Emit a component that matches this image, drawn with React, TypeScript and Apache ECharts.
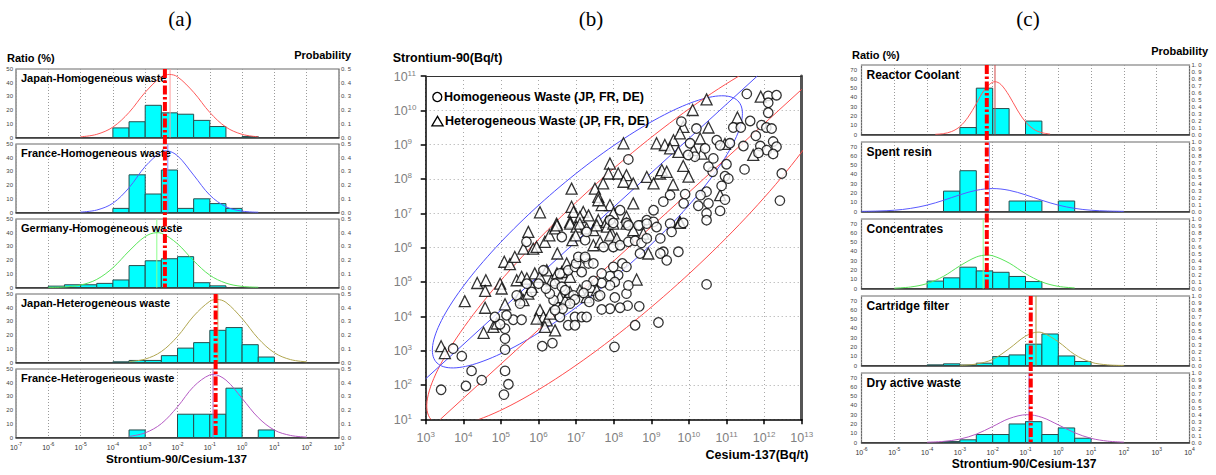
import React, { useEffect, useRef } from "react";
import * as echarts from "echarts";

const FONT = "'Liberation Sans', Arial, sans-serif";
const BIN_WIDTH = 0.5; // histogram bins are half a decade wide
// All x positions in (a)/(c) and both axes in (b) are decimal exponents (log10 of the value).

// ---------------- Panel (a) ----------------
const A_TITLES = [
  "Japan-Homogeneous waste",
  "France-Homogeneous waste",
  "Germany-Homogeneous waste",
  "Japan-Heterogeneous waste",
  "France-Heterogeneous waste",
];
const A_BIN_START = [
  [-4, -3.5, -3, -2.5, -2, -1.5, -1, 0],
  [-4, -3.5, -3, -2.5, -2, -1.5, -1, -0.5],
  [-6, -5.5, -5, -4.5, -4, -3.5, -3, -2.5, -2, -1.5, -1],
  [-4, -3.5, -3, -2.5, -2, -1.5, -1, -0.5, 0, 0.5],
  [-3.5, -2, -1.5, -1, -0.5, 0.5],
];
const A_BIN_RATIO = [
  [7, 11.5, 23.5, 18, 17, 12.5, 8, 0.7],
  [3, 27.5, 13.5, 31, 3, 10, 6.5, 3],
  [1, 2, 2, 3, 5.5, 16, 19.5, 21, 22.5, 3.5, 1.2],
  [0.5, 1.5, 1.5, 5, 10.5, 14.5, 23.5, 25.5, 13, 4],
  [5.5, 17, 17, 17, 36, 5.5],
];
const A_CURVE_EXP = [
  [-5, -4.5, -4, -3.5, -3, -2.5, -2.25, -2, -1.5, -1, -0.5, 0, 0.5],
  [-5, -4.5, -4, -3.5, -3, -2.5, -2.35, -2, -1.5, -1, -0.5, 0, 0.5],
  [-6, -5.5, -5, -4.5, -4, -3.5, -3, -2.64, -2.5, -2, -1.5, -1, -0.5, 0, 0.5],
  [-3.5, -3, -2.5, -2, -1.5, -1, -0.78, -0.5, 0, 0.5, 1, 1.5, 2],
  [-3.5, -3, -2.5, -2, -1.5, -1, -0.9, -0.5, 0, 0.5, 1, 1.5, 2],
];
const A_CURVE_PROB = [
  [0.005, 0.023, 0.076, 0.183, 0.33, 0.443, 0.46, 0.443, 0.33, 0.183, 0.076, 0.023, 0.005],
  [0.003, 0.018, 0.068, 0.181, 0.336, 0.443, 0.45, 0.414, 0.273, 0.127, 0.042, 0.01, 0.002],
  [0.001, 0.004, 0.018, 0.059, 0.144, 0.266, 0.372, 0.4, 0.396, 0.319, 0.195, 0.09, 0.032, 0.008, 0.002],
  [0.006, 0.025, 0.08, 0.19, 0.339, 0.447, 0.46, 0.439, 0.321, 0.175, 0.071, 0.021, 0.005],
  [0.008, 0.034, 0.101, 0.224, 0.372, 0.457, 0.46, 0.419, 0.285, 0.145, 0.054, 0.015, 0.003],
];
const A_MEAN_EXP = [-2.23, -2.3, -2.64, -0.75, -0.9];
// overall geometric-mean ratios: homogeneous, heterogeneous
const A_OVERALL_EXP = [-2.39, -0.82];
const A_OVERALL_PANELS = [[0, 2], [3, 4]];

// ---------------- Panel (c) ----------------
const C_TITLES = ["Reactor Coolant", "Spent resin", "Concentrates", "Cartridge filter", "Dry active waste"];
const C_BIN_START = [
  [-3, -2.5, -2, -1],
  [-3.5, -3, -1.5, -1, 0],
  [-4, -3.5, -3, -2.5, -2, -1.5, -1],
  [-4, -3.5, -3, -2.5, -2, -1.5, -1, -0.5, 0, 0.5],
  [-3.5, -3, -2.5, -2, -1.5, -1, -0.5, 0, 0.5],
];
const C_BIN_RATIO = [
  [7.5, 50, 28, 14.5],
  [22, 44, 11.3, 11.3, 11.3],
  [8, 11.5, 23, 19, 17.5, 13, 7.5],
  [0.7, 1.8, 0.5, 2.5, 9.6, 11.4, 23, 34, 10.3, 4.3],
  [1, 2.9, 8.6, 8.6, 20, 22.5, 8.6, 15.7, 4.6],
];
const C_CURVE_EXP = [
  [-3.75, -3.5, -3.25, -3, -2.75, -2.5, -2.25, -1.93, -1.75, -1.5, -1.25, -1, -0.75, -0.5, -0.25],
  [-6, -5.5, -5, -4.5, -4, -3.5, -3, -2.5, -2, -1.5, -1, -0.5, 0, 0.5, 1, 1.5, 2],
  [-5, -4.5, -4, -3.5, -3, -2.5, -2.18, -2, -1.5, -1, -0.5, 0, 0.5],
  [-3, -2.5, -2, -1.5, -1, -0.62, -0.5, 0, 0.5, 1, 1.5, 2],
  [-4, -3.5, -3, -2.5, -2, -1.5, -0.95, -0.5, 0, 0.5, 1, 1.5, 2],
];
const C_CURVE_PROB = [
  [0.003, 0.013, 0.043, 0.114, 0.25, 0.443, 0.642, 0.76, 0.72, 0.56, 0.353, 0.182, 0.075, 0.026, 0.007],
  [0.002, 0.007, 0.018, 0.045, 0.092, 0.161, 0.24, 0.305, 0.33, 0.305, 0.24, 0.161, 0.092, 0.045, 0.018, 0.007, 0.002],
  [0.005, 0.022, 0.071, 0.175, 0.326, 0.453, 0.48, 0.471, 0.367, 0.214, 0.094, 0.031, 0.008],
  [0.003, 0.021, 0.088, 0.242, 0.422, 0.48, 0.474, 0.341, 0.158, 0.047, 0.009, 0.001],
  [0.004, 0.016, 0.049, 0.12, 0.23, 0.344, 0.4, 0.362, 0.254, 0.14, 0.06, 0.02, 0.005],
];
const C_MEAN_EXP = [-1.93, -2.1, -2.29, -0.68, -0.89];
const C_OVERALL_EXP = [-2.18, -0.84];
const C_OVERALL_PANELS = [[0, 2], [3, 4]];

// ---------------- Panel (b) : [log10 Cs-137, log10 Sr-90] ----------------
const HOMO_LOG = [
  [11.54, 10.48], [12.11, 10.42], [12.33, 10.44], [12.11, 10.22], [11.63, 9.69], [12.11, 9.93], [11.93, 9.57],
  [12.06, 9.5], [12.2, 9.47], [11.18, 9.5], [11.38, 9.5], [11.78, 9.26], [12.24, 9.09], [12.33, 8.94], [11.9, 8.96],
  [12.07, 8.84], [12.24, 8.73], [11.85, 8.76], [11.45, 8.96], [11.09, 9.04], [10.74, 9.13], [10.83, 8.98],
  [11.48, 8.28], [12.47, 8.16], [12.42, 7.37], [11.0, 8.43], [10.96, 8.08], [11.05, 8.01], [10.87, 7.8],
  [10.96, 7.4], [10.83, 7.07], [10.47, 7.0], [10.52, 7.29], [10.47, 7.63], [10.63, 8.21], [10.52, 8.36],
  [10.65, 8.6], [10.43, 8.89], [10.16, 8.65], [9.98, 8.7], [10.03, 9.04], [9.8, 9.67], [10.2, 9.47], [9.9, 7.56],
  [9.86, 7.29], [10.25, 7.22], [10.31, 7.53], [9.5, 7.53], [9.32, 7.34], [8.39, 8.57], [8.17, 7.09], [7.9, 6.8],
  [8.34, 6.72], [8.7, 6.65], [8.88, 6.8], [9.06, 6.75], [9.06, 7.09], [9.5, 6.7], [9.85, 6.72], [7.99, 6.72],
  [3.41, 1.86], [3.96, 2.84], [3.73, 3.06], [4.22, 2.41], [4.07, 1.97], [4.49, 2.14], [5.08, 1.72], [5.2, 2.02],
  [5.11, 2.41], [5.11, 3.03], [5.11, 3.35], [5.11, 3.64], [4.98, 3.77], [4.84, 3.98], [5.33, 3.9], [5.55, 3.9],
  [5.15, 4.03], [6.1, 3.13], [6.37, 3.22], [8.02, 3.11], [8.57, 3.74], [9.19, 3.82], [10.47, 4.93], [8.68, 4.29],
  [8.37, 4.31], [8.17, 4.25], [7.9, 4.22], [7.68, 4.2], [7.35, 4.42], [7.59, 4.58], [7.64, 4.61], [8.03, 4.55],
  [8.34, 4.66], [8.39, 4.9], [8.12, 5.2], [7.9, 5.17], [8.03, 5.0], [7.9, 4.9], [7.68, 4.97], [7.46, 5.03],
  [7.28, 4.9], [7.2, 4.68], [6.93, 4.61], [6.97, 4.49], [6.97, 3.98], [7.15, 3.98], [7.28, 3.98], [6.79, 3.74],
  [6.97, 3.74], [6.57, 3.98], [6.64, 4.22], [6.84, 4.37], [6.44, 4.18], [6.4, 4.47], [6.3, 4.66], [6.44, 4.95],
  [6.62, 4.86], [6.71, 4.76], [6.2, 4.81], [6.0, 4.95], [5.82, 4.71], [6.13, 5.34], [6.57, 5.25], [6.79, 5.34],
  [6.97, 5.44], [7.15, 5.29], [7.0, 5.54], [7.06, 5.73], [7.24, 5.68], [7.33, 5.54], [7.46, 5.54], [7.68, 5.25],
  [7.99, 5.44], [8.23, 5.54], [8.34, 5.44], [7.73, 6.02], [7.99, 6.02], [8.17, 6.07], [8.39, 6.17], [8.57, 6.2],
  [8.74, 6.14], [8.88, 6.27], [9.24, 6.27], [9.32, 5.88], [9.41, 5.63], [9.24, 5.83], [8.7, 5.83], [9.72, 5.88],
  [9.54, 6.46], [8.39, 6.65], [8.66, 6.65], [8.88, 6.7], [9.14, 6.6], [10.47, 6.8], [7.24, 6.22], [7.28, 6.46],
  [6.62, 6.31], [5.68, 6.17], [5.69, 4.95], [5.42, 4.61], [5.51, 4.37], [7.24, 5.73],
];
const HETERO_LOG = [
  [10.47, 10.32], [10.1, 10.01], [11.91, 10.4], [11.29, 9.79], [9.85, 9.52], [10.52, 9.5], [8.26, 9.04],
  [9.14, 9.04], [9.36, 8.99], [9.59, 9.13], [9.76, 9.33], [10.3, 9.18], [9.5, 8.89], [9.72, 8.79], [10.12, 8.84],
  [10.34, 8.74], [10.96, 9.02], [11.71, 8.7], [7.9, 8.45], [7.86, 8.16], [8.12, 8.16], [8.34, 8.11], [7.72, 7.87],
  [8.26, 7.92], [8.52, 7.87], [8.88, 8.06], [9.06, 7.87], [9.23, 8.16], [9.28, 8.26], [9.41, 8.21], [9.58, 7.84],
  [9.85, 8.38], [9.99, 8.07], [6.88, 7.72], [7.5, 7.72], [7.59, 7.48], [7.9, 7.24], [7.68, 7.24], [7.59, 7.38],
  [8.52, 7.29], [6.88, 7.19], [6.93, 7.04], [7.19, 7.04], [7.1, 6.89], [6.04, 7.03], [10.83, 7.53], [9.76, 6.75],
  [7.33, 6.94], [6.48, 6.7], [6.84, 6.75], [7.59, 6.8], [7.81, 6.75], [7.99, 7.0], [8.34, 6.9],
  [3.41, 3.13], [3.51, 2.93], [4.04, 4.44], [4.37, 4.97], [4.6, 5.05], [4.58, 4.74], [4.58, 4.25], [4.54, 3.52],
  [4.8, 3.69], [4.89, 3.79], [4.98, 4.95], [5.02, 4.81], [5.11, 4.35], [5.09, 5.59], [5.24, 5.52], [5.37, 5.73],
  [5.6, 5.97], [5.73, 6.46], [5.86, 5.97], [5.95, 6.02], [6.17, 6.17], [6.29, 6.36], [6.44, 6.56], [6.49, 6.65],
  [6.84, 6.7], [7.01, 6.61], [7.1, 6.7], [7.28, 6.56], [7.46, 6.51], [7.55, 6.65], [7.82, 6.61], [7.95, 6.41],
  [7.99, 6.7], [8.34, 6.7], [8.52, 6.51], [8.79, 6.41], [8.92, 5.83], [9.76, 6.72], [8.61, 5.07], [5.42, 5.05],
  [5.55, 5.15], [5.69, 5.1], [5.9, 5.25], [6.04, 5.15], [6.22, 5.34], [6.35, 5.05], [6.49, 5.25], [6.62, 5.29],
  [6.75, 5.54], [6.84, 5.15], [6.5, 5.83], [6.9, 6.22], [6.99, 6.36], [7.46, 6.07], [7.64, 6.17], [7.9, 6.36],
  [8.08, 6.27], [5.51, 4.61], [5.6, 4.47], [5.73, 4.66], [5.82, 4.86], [6.04, 4.18], [6.13, 3.98], [6.22, 3.88],
  [6.31, 4.08], [6.44, 3.59], [5.95, 3.93], [6.49, 4.37], [6.57, 4.56], [6.71, 4.47], [6.84, 4.71], [7.1, 4.76],
  [7.28, 4.56], [7.41, 4.86], [7.55, 4.76], [6.17, 3.69],
];
// confidence ellipses: centre (log Cs, log Sr), semi-axes (decades), tilt (deg) — heterogeneous, homogeneous
const ELLIPSE_PARAMS = [
  [7.3, 6.46, 5.53, 1.46, 43.7],
  [8.62, 6.4, 7.7, 1.8, 45],
];
// lines of constant ratio log10(Sr/Cs) — heterogeneous, homogeneous
const RATIO_LINES = [-0.82, -2.39];
const B_COLORS = ["#4d4dff", "#ff4d4d"];
const B_X_RANGE = [3, 13];
const B_Y_RANGE = [1, 11];

// ---------------- Layout / styles ----------------
const A_CURVE_COLOR = ["#ff5a5a", "#5a5aff", "#5ae65a", "#b0a650", "#b45ac3"];
const A_MEAN_COLOR = ["#ff9c9c", "#8c8cff", "#8cff8c", "#c2b060", "#b070c8"];
const C_CURVE_COLOR = ["#ff5a5a", "#5a5aff", "#5ae65a", "#b0a650", "#b45ac3"];
const C_MEAN_COLOR = ["#d04848", "#9c9cff", "#8cff8c", "#a8943c", "#a050c0"];

const richSmall = {
  b: { fontSize: 7, lineHeight: 9, verticalAlign: "bottom", color: "#333", fontFamily: FONT },
  s: { fontSize: 5, lineHeight: 5, verticalAlign: "top", color: "#333", fontFamily: FONT },
};
const richBig = {
  b: { fontSize: 12.5, lineHeight: 14, verticalAlign: "bottom", color: "#808080", fontFamily: FONT },
  s: { fontSize: 8, lineHeight: 8, verticalAlign: "top", color: "#808080", fontFamily: FONT },
};
const powLabel = (v: number) => `{b|10}{s|${Math.round(v)}}`;

type Stack = {
  left: number; width: number; tops: number[]; height: number;
  xMin: number; xMax: number; ratioMax: number; ratioLabelMax: number; probMax: number;
  leftMargin: number;
  titles: string[]; titleSize: number; titleDy: number;
  binStart: number[][]; binRatio: number[][];
  curveExp: number[][]; curveProb: number[][]; curveColor: string[];
  meanExp: number[]; meanColor: string[];
  overall: number[]; overallPanels: number[][];
};

function addStack(opt: any, P: Stack) {
  const firstX = opt.xAxis.length;
  const firstY = opt.yAxis.length;
  P.tops.forEach((top, i) => {
    const g = opt.grid.length;
    opt.grid.push({ left: P.left, top, width: P.width, height: P.height, show: true, borderColor: "#6a6a6a", borderWidth: 1.2 });
    const xi = opt.xAxis.length;
    opt.xAxis.push({
      type: "value", gridIndex: g, min: P.xMin, max: P.xMax, interval: 1,
      axisLine: { show: true, onZero: false, lineStyle: { color: "#333", width: 1.5 } },
      axisTick: { show: false },
      axisLabel: { show: i === P.tops.length - 1, formatter: powLabel, rich: richSmall, margin: 4 },
      splitLine: { show: true, lineStyle: { color: "#9a9a9a", width: 1, type: [1, 2] } },
    });
    const yl = opt.yAxis.length;
    opt.yAxis.push({
      type: "value", gridIndex: g, position: "left", min: 0, max: P.ratioMax, interval: 10,
      axisLine: { show: false }, axisTick: { show: false }, splitLine: { show: false },
      axisLabel: { fontSize: 6, color: "#444", margin: P.leftMargin, fontFamily: FONT, formatter: (v: number) => (v <= P.ratioLabelMax ? String(v) : "") },
    });
    const yr = opt.yAxis.length;
    opt.yAxis.push({
      type: "value", gridIndex: g, position: "right", min: 0, max: P.probMax, interval: 0.1,
      axisLine: { show: false }, axisTick: { show: false }, splitLine: { show: false },
      axisLabel: { fontSize: 6, color: "#444", margin: 2, fontFamily: FONT, formatter: (v: number) => v.toFixed(1).replace(".", ". ") },
    });
    // histogram
    opt.series.push({
      type: "custom", xAxisIndex: xi, yAxisIndex: yl, z: 2, silent: true,
      data: P.binStart[i].map((s, k) => [s, P.binRatio[i][k], s + BIN_WIDTH]),
      encode: { x: [0, 2], y: 1 },
      renderItem: (_p: any, api: any) => {
        const a = api.coord([api.value(0), api.value(1)]);
        const b = api.coord([api.value(2), 0]);
        return {
          type: "rect",
          shape: { x: a[0], y: a[1], width: b[0] - a[0], height: b[1] - a[1] },
          style: { fill: "#00ffff", stroke: "#2a4c4c", lineWidth: 1 },
        };
      },
    });
    // fitted mean line
    opt.series.push({
      type: "custom", xAxisIndex: xi, yAxisIndex: yl, z: 3, silent: true,
      data: [[P.meanExp[i], P.ratioMax]],
      renderItem: (_p: any, api: any) => {
        const t = api.coord([api.value(0), api.value(1)]);
        const b = api.coord([api.value(0), 0]);
        return { type: "line", shape: { x1: t[0], y1: t[1], x2: b[0], y2: b[1] }, style: { stroke: P.meanColor[i], lineWidth: 1 } };
      },
    });
    // probability curve
    opt.series.push({
      type: "line", xAxisIndex: xi, yAxisIndex: yr, z: 4, silent: true, symbol: "none", smooth: 0.35,
      lineStyle: { width: 1, color: P.curveColor[i] },
      data: P.curveExp[i].map((e, k) => [e, P.curveProb[i][k]]),
    });
    opt.graphic.push({
      type: "text", x: P.left + 5, y: top + P.titleDy, z: 6, silent: true,
      style: { text: P.titles[i], fill: "#000", font: `bold ${P.titleSize}px ${FONT}`, textVerticalAlign: "middle", verticalAlign: "middle" },
    });
  });
  P.overall.forEach((v, j) => {
    const [from, to] = P.overallPanels[j];
    opt.series.push({
      type: "custom", xAxisIndex: firstX + from, yAxisIndex: firstY + 2 * from, z: 10, clip: false, silent: true,
      data: [[v, 0]],
      renderItem: (_p: any, api: any) => {
        const x = api.coord([api.value(0), 0])[0];
        return {
          type: "line",
          shape: { x1: x, y1: P.tops[from], x2: x, y2: P.tops[to] + P.height },
          style: { stroke: "#ff0000", lineWidth: 4, lineDash: [9, 2.5, 2.5, 2.5] },
        };
      },
    });
  });
}

function text(x: number, y: number, t: string, font: string, align = "left") {
  return {
    type: "text", x, y, z: 6, silent: true,
    style: { text: t, fill: "#000", font, textAlign: align, align, textVerticalAlign: "middle", verticalAlign: "middle" },
  };
}

function buildOption() {
  const opt: any = { animation: false, backgroundColor: "#fff", grid: [], xAxis: [], yAxis: [], series: [], graphic: [] };

  addStack(opt, {
    left: 16, width: 323, tops: [69, 144, 219, 294, 369], height: 68.5,
    xMin: -7, xMax: 3, ratioMax: 50, ratioLabelMax: 50, probMax: 0.5, leftMargin: 3,
    titles: A_TITLES, titleSize: 11, titleDy: 8.5,
    binStart: A_BIN_START, binRatio: A_BIN_RATIO,
    curveExp: A_CURVE_EXP, curveProb: A_CURVE_PROB, curveColor: A_CURVE_COLOR,
    meanExp: A_MEAN_EXP, meanColor: A_MEAN_COLOR,
    overall: A_OVERALL_EXP, overallPanels: A_OVERALL_PANELS,
  });
  addStack(opt, {
    left: 861.5, width: 328, tops: [65, 142, 219, 296, 373], height: 69.5,
    xMin: -6, xMax: 4, ratioMax: 75, ratioLabelMax: 70, probMax: 1.0, leftMargin: 4.5,
    titles: C_TITLES, titleSize: 12, titleDy: 9.5,
    binStart: C_BIN_START, binRatio: C_BIN_RATIO,
    curveExp: C_CURVE_EXP, curveProb: C_CURVE_PROB, curveColor: C_CURVE_COLOR,
    meanExp: C_MEAN_EXP, meanColor: C_MEAN_COLOR,
    overall: C_OVERALL_EXP, overallPanels: C_OVERALL_PANELS,
  });

  // ---- panel (b)
  const g = opt.grid.length;
  opt.grid.push({ left: 425.7, top: 76, width: 376, height: 343.3, show: false });
  const xb = opt.xAxis.length;
  opt.xAxis.push({
    type: "value", gridIndex: g, min: B_X_RANGE[0], max: B_X_RANGE[1], interval: 1, position: "bottom",
    axisLine: { show: true, onZero: false, lineStyle: { color: "#000", width: 1.5 } },
    axisTick: { show: true, length: 5, lineStyle: { color: "#000", width: 1.5 } },
    axisLabel: { formatter: powLabel, rich: richBig, margin: 11 },
    splitLine: { show: true, lineStyle: { color: "#a8a8a8", width: 1, type: [1, 3] } },
  });
  opt.xAxis.push({
    type: "value", gridIndex: g, min: B_X_RANGE[0], max: B_X_RANGE[1], interval: 1, position: "top",
    axisLine: { show: true, onZero: false, lineStyle: { color: "#333", width: 1 } },
    axisTick: { show: false }, axisLabel: { show: false }, splitLine: { show: false },
  });
  const yb = opt.yAxis.length;
  opt.yAxis.push({
    type: "value", gridIndex: g, min: B_Y_RANGE[0], max: B_Y_RANGE[1], interval: 1, position: "left",
    axisLine: { show: true, onZero: false, lineStyle: { color: "#000", width: 1.5 } },
    axisTick: { show: true, length: 5, lineStyle: { color: "#000", width: 1.5 } },
    axisLabel: { formatter: powLabel, rich: richBig, margin: 32, align: "left" },
    splitLine: { show: true, lineStyle: { color: "#a8a8a8", width: 1, type: [1, 3] } },
  });
  opt.yAxis.push({
    type: "value", gridIndex: g, min: B_Y_RANGE[0], max: B_Y_RANGE[1], interval: 1, position: "right",
    axisLine: { show: true, onZero: false, lineStyle: { color: "#555", width: 3 } },
    axisTick: { show: false }, axisLabel: { show: false }, splitLine: { show: false },
  });
  ELLIPSE_PARAMS.forEach((ep, k) => {
    opt.series.push({
      type: "custom", xAxisIndex: xb, yAxisIndex: yb, z: 3, clip: true, silent: true,
      data: [ep],
      renderItem: (_p: any, api: any) => {
        const cx = api.value(0), cy = api.value(1), a = api.value(2), b = api.value(3);
        const th = (api.value(4) * Math.PI) / 180;
        const pts: number[][] = [];
        for (let d = 0; d <= 360; d += 2) {
          const t = (d * Math.PI) / 180;
          const X = cx + a * Math.cos(t) * Math.cos(th) - b * Math.sin(t) * Math.sin(th);
          const Y = cy + a * Math.cos(t) * Math.sin(th) + b * Math.sin(t) * Math.cos(th);
          pts.push(api.coord([X, Y]));
        }
        return { type: "polyline", shape: { points: pts }, style: { stroke: B_COLORS[k], lineWidth: 1, fill: "none" } };
      },
    });
  });
  RATIO_LINES.forEach((r, k) => {
    // Sr = r * Cs on log axes: log Sr = log Cs + log r, clipped to the plot frame
    const x0 = Math.max(B_X_RANGE[0], B_Y_RANGE[0] - r);
    const x1 = Math.min(B_X_RANGE[1], B_Y_RANGE[1] - r);
    opt.series.push({
      type: "line", xAxisIndex: xb, yAxisIndex: yb, z: 3, symbol: "none", silent: true,
      lineStyle: { width: 1, color: B_COLORS[k] },
      data: [[x0, x0 + r], [x1, x1 + r]],
    });
  });
  opt.series.push({
    type: "scatter", xAxisIndex: xb, yAxisIndex: yb, z: 4, symbol: "triangle", symbolSize: 11, silent: true,
    itemStyle: { color: "#fff", borderColor: "#000", borderWidth: 1.3 },
    data: HETERO_LOG,
  });
  opt.series.push({
    type: "scatter", xAxisIndex: xb, yAxisIndex: yb, z: 5, symbol: "circle", symbolSize: 9.5, silent: true,
    itemStyle: { color: "#fff", borderColor: "#000", borderWidth: 1.3 },
    data: HOMO_LOG,
  });

  // ---- texts
  const serif = "21px 'Liberation Serif', 'Times New Roman', serif";
  opt.graphic.push(text(180, 19, "(a)", serif, "center"));
  opt.graphic.push(text(591, 19, "(b)", serif, "center"));
  opt.graphic.push(text(1028, 19, "(c)", serif, "center"));
  opt.graphic.push(text(7, 58, "Ratio (%)", `bold 11px ${FONT}`));
  opt.graphic.push(text(351, 55, "Probability", `bold 11px ${FONT}`, "right"));
  opt.graphic.push(text(852, 55, "Ratio (%)", `bold 11px ${FONT}`));
  opt.graphic.push(text(1208, 51, "Probability", `bold 11px ${FONT}`, "right"));
  opt.graphic.push(text(176.5, 458, "Strontium-90/Cesium-137", `bold 11.7px ${FONT}`, "center"));
  opt.graphic.push(text(1024, 464, "Strontium-90/Cesium-137", `bold 12px ${FONT}`, "center"));
  opt.graphic.push(text(392.7, 58, "Strontium-90(Bq/t)", `bold 12.5px ${FONT}`));
  opt.graphic.push(text(808.3, 455, "Cesium-137(Bq/t)", `bold 12.5px ${FONT}`, "right"));
  opt.graphic.push(text(444, 97, "Homogeneous Waste (JP, FR, DE)", `bold 12.5px ${FONT}`));
  opt.graphic.push(text(445, 121, "Heterogeneous Waste (JP, FR, DE)", `bold 12.5px ${FONT}`));
  opt.graphic.push({ type: "circle", z: 6, silent: true, shape: { cx: 437.3, cy: 97, r: 4.5 }, style: { fill: "#fff", stroke: "#000", lineWidth: 1.3 } });
  opt.graphic.push({ type: "polygon", z: 6, silent: true, shape: { points: [[437.5, 116.3], [431.9, 125.8], [443.1, 125.8]] }, style: { fill: "#fff", stroke: "#000", lineWidth: 1.3 } });
  return opt;
}

export default function App() {
  const ref = useRef<HTMLDivElement>(null);
  useEffect(() => {
    document.body.style.margin = "0";
    const chart = echarts.init(ref.current!, null, { renderer: "svg" });
    chart.setOption(buildOption());
    return () => chart.dispose();
  }, []);
  return <div ref={ref} style={{ width: 1216, height: 475, background: "#fff" }} />;
}
